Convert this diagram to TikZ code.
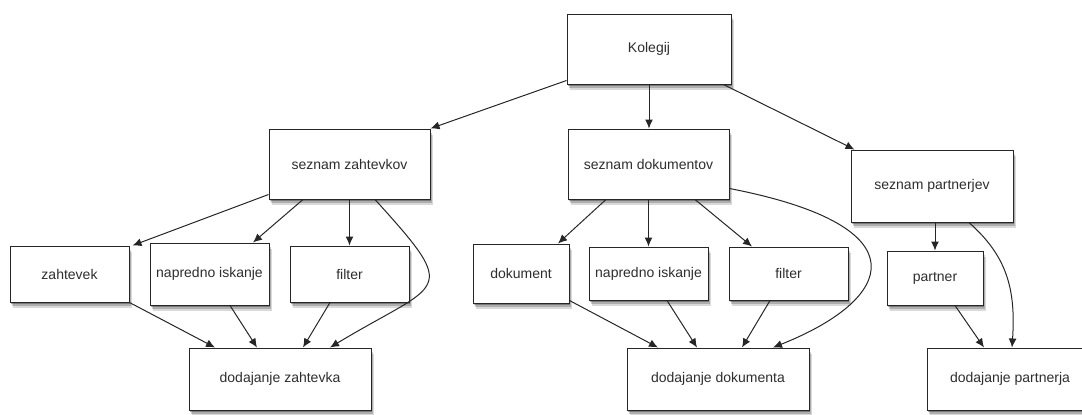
\documentclass[tikz,border=0pt]{standalone}
\usepackage{fontspec}
\setmainfont{Liberation Sans}
\usetikzlibrary{arrows.meta,shadows}
\begin{document}
\begin{tikzpicture}[x=1pt,y=-1pt,
  box/.style={draw=black!85, line width=1pt, fill=white, inner sep=0pt,
    text=black!82, font=\fontsize{14}{16}\selectfont,
    drop shadow={shadow xshift=3pt, shadow yshift=-6pt, fill=black, opacity=0.15},
    drop shadow={shadow xshift=2pt, shadow yshift=-4pt, fill=black, opacity=0.2},
    drop shadow={shadow xshift=1pt, shadow yshift=-2pt, fill=black, opacity=0.3}},
  conn/.style={draw=black!85, line width=1pt, -{Latex[length=9pt,width=8pt]}}]
\useasboundingbox (0,0) rectangle (1082,415);
\clip (0,0) rectangle (1082,415);
% nodes
\node[box, minimum width=164, minimum height=70] (kol) at (649,49) {Kolegij};
\node[box, minimum width=161, minimum height=70] (sz) at (349.5,164) {seznam zahtevkov};
\node[box, minimum width=161, minimum height=70] (sd) at (648.5,164) {seznam dokumentov};
\node[box, minimum width=162, minimum height=72] (sp) at (932,186) {seznam partnerjev};
\node[box, minimum width=119, minimum height=56] (zah) at (69.5,274) {zahtevek};
\node[box, minimum width=119, minimum height=62] (ni1) at (209.5,274) {napredno iskanje};
\node[box, minimum width=119, minimum height=56] (fil1) at (349.5,274) {filter};
\node[box, minimum width=182, minimum height=62] (dz) at (280,379) {dodajanje zahtevka};
\node[box, minimum width=96, minimum height=59] (dok) at (521,273.5) {dokument};
\node[box, minimum width=119, minimum height=53] (ni2) at (648.5,273.5) {napredno iskanje};
\node[box, minimum width=119, minimum height=53] (fil2) at (788.5,273.5) {filter};
\node[box, minimum width=182, minimum height=62] (dd) at (718,379) {dodajanje dokumenta};
\node[box, minimum width=96, minimum height=54] (par) at (935,278) {partner};
\node[box, minimum width=166, minimum height=62] (dp) at (1010,379) {dodajanje partnerja};
% connectors from Kolegij
\draw[conn] ([yshift=4pt]kol.south west) -- (sz.north east);
\draw[conn] (kol.south) -- (kol.south |- sd.north);
\draw[conn] ([xshift=-8pt]kol.south east) -- ([xshift=4pt]sp.north west);
% seznam zahtevkov
\draw[conn] ([yshift=5pt]sz.south west) -- ([xshift=3pt]zah.north east);
\draw[conn] ([xshift=-46.5pt]sz.south) -- ([xshift=43.5pt]ni1.north);
\draw[conn] (sz.south) -- (fil1.north);
\draw[conn] ([xshift=25.5pt]sz.south) .. controls +(87,96) and +(111,-67) .. ([xshift=50pt]dz.north);
\draw[conn] (zah.south east) -- ([xshift=-65pt]dz.north);
\draw[conn] ([xshift=20.5pt]ni1.south) -- ([xshift=-23pt]dz.north);
\draw[conn] ([xshift=-19.5pt]fil1.south) -- ([xshift=23pt]dz.north);
% seznam dokumentov
\draw[conn] ([xshift=-42.5pt]sd.south) -- ([xshift=37pt]dok.north);
\draw[conn] (sd.south) -- (ni2.north);
\draw[conn] ([xshift=46.5pt]sd.south) -- ([xshift=-36.5pt]fil2.north);
\draw[conn] ([yshift=11pt]sd.south east) .. controls +(196,38) and +(121,-48) .. ([xshift=55pt]dd.north);
\draw[conn] ([yshift=3pt]dok.south east) -- ([xshift=-60pt]dd.north);
\draw[conn] ([xshift=18.5pt]ni2.south) -- ([xshift=-21pt]dd.north);
\draw[conn] ([xshift=-18.5pt]fil2.south) -- ([xshift=24pt]dd.north);
% seznam partnerjev
\draw[conn] (sp.south -| par.north) -- (par.north);
\draw[conn] ([xshift=37pt]sp.south) .. controls +(37,33) and +(4,-60) .. ([xshift=2pt]dp.north);
\draw[conn] ([xshift=20pt]par.south) -- ([xshift=-26pt]dp.north);
\end{tikzpicture}
\end{document}
